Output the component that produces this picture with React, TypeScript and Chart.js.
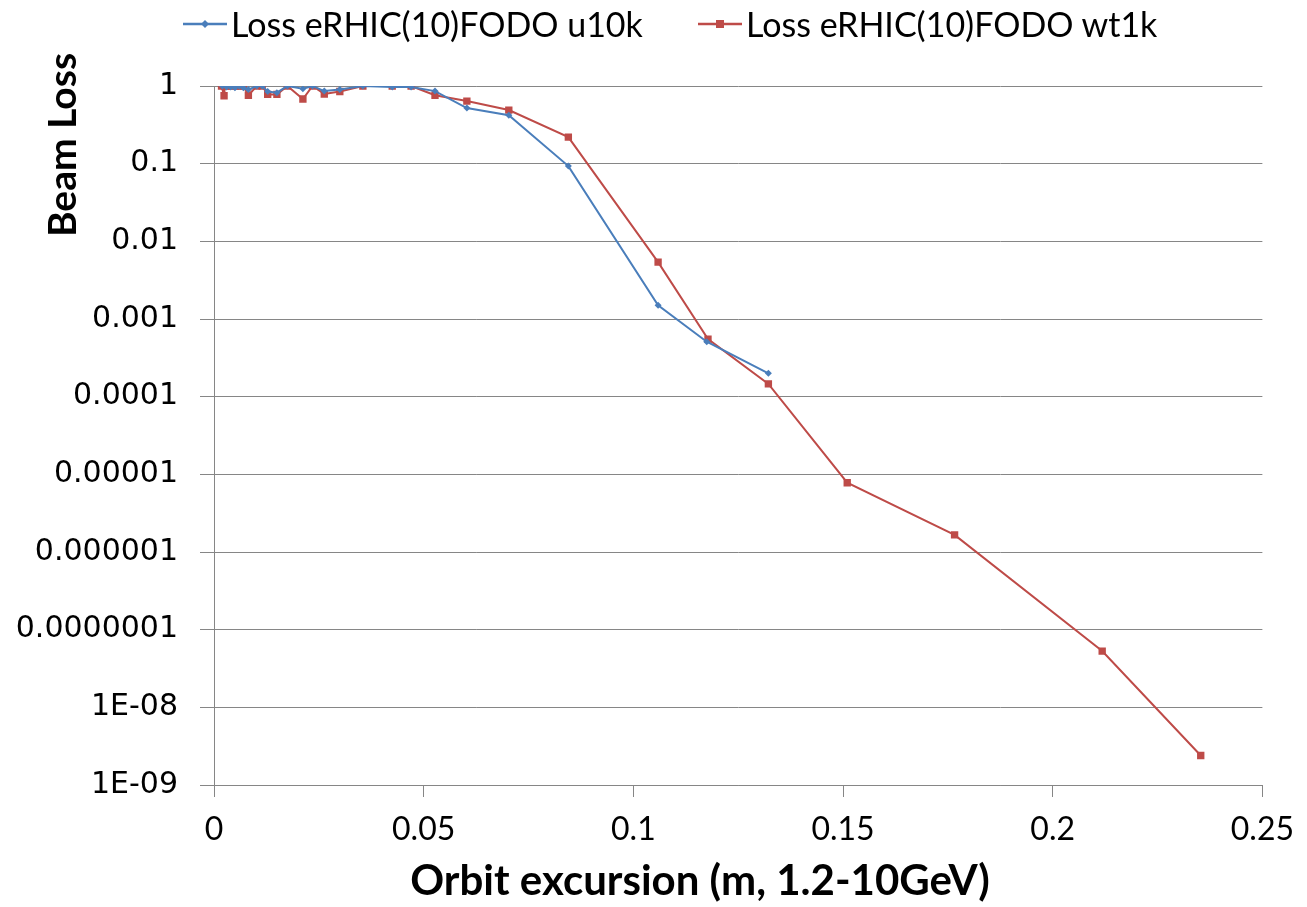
import React, { useEffect, useRef } from "react";
import { Chart, registerables } from "chart.js";

Chart.register(...registerables);

const seriesNames = ["Loss eRHIC(10)FODO u10k", "Loss eRHIC(10)FODO wt1k"];
const seriesColors = ["#4A7EBB", "#BE4B48"];

const blueX = [0.0020, 0.0030, 0.0040, 0.0050, 0.0060, 0.0070, 0.0082, 0.0102, 0.0115, 0.0128, 0.0150, 0.0175, 0.0212, 0.0235, 0.0263, 0.0300, 0.0355, 0.0425, 0.0470, 0.0527, 0.0603, 0.0703, 0.0845, 0.1059, 0.1175, 0.1322];
const blueY = [1, 0.97, 0.97, 0.95, 1, 0.95, 0.9, 1, 1, 0.85, 0.82, 1, 0.92, 1, 0.86, 0.9, 1, 0.97, 0.97, 0.86, 0.52, 0.42, 0.093, 0.0015, 0.00051, 0.0002];

const redX = [0.0018, 0.0024, 0.0025, 0.0033, 0.0042, 0.0052, 0.0062, 0.0070, 0.0082, 0.0102, 0.0115, 0.0128, 0.0150, 0.0175, 0.0212, 0.0235, 0.0263, 0.0300, 0.0355, 0.0425, 0.0470, 0.0527, 0.0603, 0.0703, 0.0845, 0.1059, 0.1178, 0.1322, 0.1510, 0.1766, 0.2118, 0.2353];
const redY = [1, 0.75, 1, 1, 1, 1, 1, 1, 0.76, 1, 1, 0.78, 0.78, 1, 0.68, 1, 0.79, 0.85, 1, 1, 1, 0.76, 0.64, 0.49, 0.22, 0.0054, 0.00055, 0.000146, 0.0000078, 0.00000166, 0.000000053, 0.0000000024];

const yTickValues = [1, 0.1, 0.01, 0.001, 0.0001, 0.00001, 0.000001, 0.0000001, 1e-8, 1e-9];
const yTickLabels = ["1", "0.1", "0.01", "0.001", "0.0001", "0.00001", "0.000001", "0.0000001", "1E-08", "1E-09"];
const xTickLabels = ["0", "0.05", "0.1", "0.15", "0.2", "0.25"];

const xTitle = "Orbit excursion (m, 1.2-10GeV)";
const yTitle = "Beam Loss";

const SANS = "Lato, 'Open Sans', sans-serif";

const titlesPlugin = {
  id: "axisTitles",
  afterDraw(chart: any) {
    const ctx = chart.ctx;
    ctx.save();
    ctx.fillStyle = "#000";
    ctx.textAlign = "center";
    ctx.textBaseline = "middle";
    ctx.font = `bold 42px ${SANS}`;
    ctx.fillText(xTitle, 700, 881);
    ctx.font = `bold 39px ${SANS}`;
    ctx.translate(63, 145);
    ctx.rotate(-Math.PI / 2);
    ctx.fillText(yTitle, 0, 0);
    ctx.restore();
  },
};

function LegendItem({ name, color, square, left }: { name: string; color: string; square: boolean; left: number }) {
  return (
    <div style={{ position: "absolute", left, top: 2, height: 44, display: "flex", alignItems: "center", whiteSpace: "nowrap" }}>
      <svg width={44} height={12} style={{ marginRight: 4 }}>
        <line x1={0} y1={6} x2={44} y2={6} stroke={color} strokeWidth={2.5} />
        {square ? (
          <rect x={18} y={2} width={8} height={8} fill={color} />
        ) : (
          <polygon points="22,2 26,6 22,10 18,6" fill={color} />
        )}
      </svg>
      <span style={{ fontFamily: SANS, fontSize: 34, color: "#000", lineHeight: "44px" }}>{name}</span>
    </div>
  );
}

export default function App() {
  const ref = useRef<HTMLCanvasElement>(null);
  useEffect(() => {
    if (!ref.current) return;
    const chart = new Chart(ref.current, {
      type: "line",
      data: {
        datasets: [
          {
            label: seriesNames[0],
            data: blueX.map((x, i) => ({ x, y: blueY[i] })),
            borderColor: seriesColors[0],
            backgroundColor: seriesColors[0],
            borderWidth: 2,
            pointStyle: "rectRot",
            pointRadius: 3.5,
            pointBorderWidth: 0,
            tension: 0,
          },
          {
            label: seriesNames[1],
            data: redX.map((x, i) => ({ x, y: redY[i] })),
            borderColor: seriesColors[1],
            backgroundColor: seriesColors[1],
            borderWidth: 2,
            pointStyle: "rect",
            pointRadius: 5.2,
            pointBorderWidth: 0,
            tension: 0,
          },
        ],
      },
      options: {
        animation: false,
        responsive: false,
        layout: { padding: { left: 0, right: 40, top: 86, bottom: 0 } },
        plugins: {
          legend: { display: false },
          tooltip: { enabled: false },
        },
        scales: {
          x: {
            type: "linear",
            min: 0,
            max: 0.25,
            ticks: {
              stepSize: 0.05,
              color: "#000",
              font: { family: SANS, size: 32 },
              padding: 13,
              callback: (_v: any, i: number) => xTickLabels[i],
            },
            grid: { drawOnChartArea: false, drawTicks: true, tickLength: 12, color: "#868686" },
            border: { color: "#868686", width: 1 },
            afterFit: (s: any) => { s.height = 122; },
          },
          y: {
            type: "logarithmic",
            min: 1e-9,
            max: 1,
            afterBuildTicks: (s: any) => { s.ticks = yTickValues.map((v) => ({ value: v })); },
            ticks: {
              color: "#000",
              font: { family: "'DejaVu Sans', Verdana, sans-serif", size: 30 },
              padding: 22,
              autoSkip: false,
              callback: (_v: any, i: number) => yTickLabels[i],
            },
            grid: { color: "#868686", lineWidth: 1, tickLength: 14 },
            border: { color: "#868686", width: 1 },
            afterFit: (s: any) => { s.width = 214; },
          },
        },
      } as any,
      plugins: [titlesPlugin],
    });
    return () => chart.destroy();
  }, []);
  return (
    <div style={{ position: "absolute", left: 0, top: 0, width: 1307, height: 907, background: "#fff" }}>
      <canvas ref={ref} width={1307} height={907} />
      <LegendItem name={seriesNames[0]} color={seriesColors[0]} square={false} left={183} />
      <LegendItem name={seriesNames[1]} color={seriesColors[1]} square={true} left={698} />
    </div>
  );
}
